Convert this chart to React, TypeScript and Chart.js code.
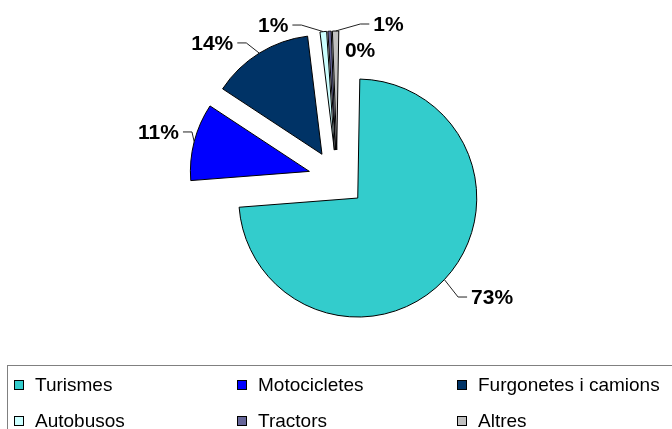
import React, { useEffect, useRef } from 'react';
import { Chart, ArcElement, registerables } from 'chart.js';

Chart.register(...registerables);

// ---- data ----
const categories = ['Turismes', 'Motocicletes', 'Furgonetes i camions', 'Autobusos', 'Tractors', 'Altres'];
const shares = [73.49, 10.5, 13.8, 0.9, 0.45, 0.86];
const sliceColors = ['#33CCCC', '#0000FF', '#003366', '#CCFFFF', '#666699', '#C0C0C0'];

// ---- layout ----
const EXPLODE = 28.5; // px each slice is pulled out from the centre
const RADIUS = 119;
const labelLayout = [
  { dx: 26.7, dy: 18.4, align: 'left', line: true },
  { dx: -15.2, dy: -8.7, align: 'right', line: true },
  { dx: -26, dy: -9.2, align: 'right', line: true },
  { dx: -34.9, dy: -5.6, align: 'right', line: true },
  { dx: 15.4, dy: 20.5, align: 'left', line: false },
  { dx: 37.7, dy: -6, align: 'left', line: true },
];
const legendCols = [14, 237, 457];
const legendRows = [385, 421];

// exploded pie: shift every slice outward along its bisector, radius unchanged
const origDraw = ArcElement.prototype.draw;
ArcElement.prototype.draw = function (ctx: CanvasRenderingContext2D) {
  const self = this as any;
  const mid = (self.startAngle + self.endAngle) / 2;
  ctx.save();
  ctx.translate(Math.cos(mid) * EXPLODE, Math.sin(mid) * EXPLODE);
  origDraw.call(this, ctx);
  ctx.restore();
};

const labelPlugin = {
  id: 'sliceLabels',
  afterDatasetsDraw(chart: any) {
    const meta = chart.getDatasetMeta(0);
    const ctx = chart.ctx as CanvasRenderingContext2D;
    const data = chart.data.datasets[0].data as number[];
    const total = data.reduce((a, b) => a + b, 0);
    ctx.save();
    ctx.font = 'bold 21px "Liberation Sans", Arial, sans-serif';
    ctx.textBaseline = 'middle';
    ctx.lineWidth = 1;
    ctx.strokeStyle = '#222';
    meta.data.forEach((arc: any, i: number) => {
      const mid = (arc.startAngle + arc.endAngle) / 2;
      const cx = arc.x + Math.cos(mid) * EXPLODE;
      const cy = arc.y + Math.sin(mid) * EXPLODE;
      const ax = cx + Math.cos(mid) * arc.outerRadius;
      const ay = cy + Math.sin(mid) * arc.outerRadius;
      const L = labelLayout[i];
      const tx = ax + L.dx;
      const ty = ay + L.dy;
      const text = Math.round((data[i] / total) * 100) + '%';
      ctx.textAlign = L.align as CanvasTextAlign;
      ctx.fillStyle = '#000';
      ctx.fillText(text, tx, ty);
      if (L.line) {
        const dir = L.align === 'left' ? -1 : 1;
        ctx.beginPath();
        ctx.moveTo(tx + dir * 4, ty - 1);
        ctx.lineTo(tx + dir * 13, ty - 1);
        ctx.lineTo(ax, ay);
        ctx.stroke();
      }
    });
    ctx.restore();
  },
};

const legendPlugin = {
  id: 'boxLegend',
  afterDraw(chart: any) {
    const ctx = chart.ctx as CanvasRenderingContext2D;
    const labels = chart.data.labels as string[];
    const colors = chart.data.datasets[0].backgroundColor as string[];
    ctx.save();
    ctx.lineWidth = 1;
    ctx.strokeStyle = '#808080';
    ctx.strokeRect(7.5, 365.5, 700, 100);
    ctx.font = '19px "Liberation Sans", Arial, sans-serif';
    ctx.textBaseline = 'middle';
    ctx.textAlign = 'left';
    labels.forEach((lab, i) => {
      const x = legendCols[i % 3];
      const y = legendRows[Math.floor(i / 3)];
      ctx.fillStyle = colors[i];
      ctx.fillRect(x, y - 5, 10, 10);
      ctx.strokeStyle = '#000';
      ctx.strokeRect(x + 0.5, y - 4.5, 9, 9);
      ctx.fillStyle = '#000';
      ctx.fillText(lab, x + 21, y + 1);
    });
    ctx.restore();
  },
};

export default function App() {
  const ref = useRef<HTMLCanvasElement | null>(null);
  useEffect(() => {
    if (!ref.current) return;
    const chart = new Chart(ref.current, {
      type: 'pie',
      data: {
        labels: categories,
        datasets: [
          {
            data: shares,
            backgroundColor: sliceColors,
            borderColor: '#000',
            borderWidth: 1,
            borderJoinStyle: 'miter',
          } as any,
        ],
      },
      options: {
        responsive: false,
        animation: false,
        radius: RADIUS,
        rotation: 1,
        layout: { padding: { left: 2, right: 0, top: 0, bottom: 72 } },
        events: [],
        plugins: { legend: { display: false }, tooltip: { enabled: false } },
      } as any,
      plugins: [labelPlugin, legendPlugin],
    });
    return () => chart.destroy();
  }, []);
  return (
    <div style={{ position: 'absolute', left: 0, top: 0, width: 672, height: 429, background: '#fff', overflow: 'hidden' }}>
      <canvas ref={ref} width={672} height={429} style={{ display: 'block' }} />
    </div>
  );
}
